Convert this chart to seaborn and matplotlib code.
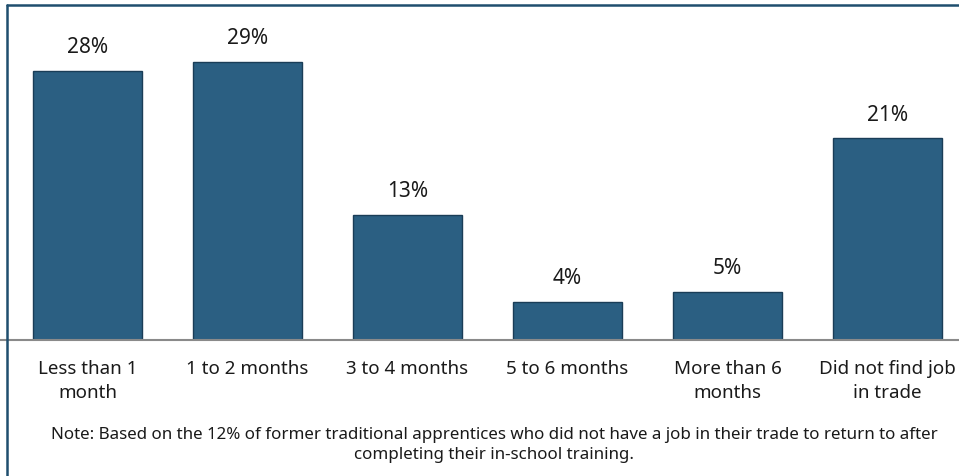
import matplotlib
matplotlib.use("Agg")
import matplotlib.pyplot as plt
from matplotlib.lines import Line2D
import seaborn as sns
import pandas as pd

categories = ["Less than 1\nmonth", "1 to 2 months", "3 to 4 months",
              "5 to 6 months", "More than 6\nmonths", "Did not find job\nin trade"]
shares = [28, 29, 13, 4, 5, 21]
value_labels = ["28%", "29%", "13%", "4%", "5%", "21%"]
note = ("Note: Based on the 12% of former traditional apprentices who did not have a job in their trade to return to after\n"
        "completing their in-school training.")

sns.set_theme(style="white")
plt.rcParams["font.family"] = ["Noto Sans", "DejaVu Sans"]

BAR = "#2B5F82"
FRAME = "#1F4E6E"

W, H = 959, 477
fig = plt.figure(figsize=(W / 100, H / 100), dpi=100)
ax = fig.add_axes([7.5 / W, (H - 341) / H, (W - 7.5) / W, 335 / H])

df = pd.DataFrame({"cat": categories, "share": shares})
sns.barplot(data=df, x="cat", y="share", color=BAR, saturation=1,
            width=0.68, edgecolor="#1A3D57", linewidth=1, ax=ax)

ax.set_xlim(-0.5, (W - 87.5) / 160)
ax.set_ylim(0, 34.9)
for s in ax.spines.values():
    s.set_visible(False)
ax.set_yticks([])
ax.set_xlabel("")
ax.set_ylabel("")
ax.tick_params(axis="x", length=0, pad=13.5, labelsize=13.5, colors="#1a1a1a")
for t in ax.get_xticklabels():
    t.set_linespacing(1.48)

for i, (v, lab) in enumerate(zip(shares, value_labels)):
    ax.annotate(lab, (i, v), xytext=(0, 10), textcoords="offset points",
                ha="center", va="bottom", fontsize=15, color="#1a1a1a")

# baseline and frame
fig.add_artist(Line2D([0, 1], [(H - 341) / H] * 2, color="#8a8a8a", lw=1.5,
                      transform=fig.transFigure))
fig.add_artist(Line2D([7 / W, 1], [(H - 6) / H] * 2, color=FRAME, lw=1.8,
                      transform=fig.transFigure))
fig.add_artist(Line2D([7 / W] * 2, [0, (H - 6) / H], color=FRAME, lw=1.8,
                      transform=fig.transFigure))

fig.text(494 / W, (H - 445) / H, note, ha="center", va="center",
         fontsize=12.2, color="#1a1a1a", linespacing=1.4)

fig.savefig("out.png", dpi=100)
